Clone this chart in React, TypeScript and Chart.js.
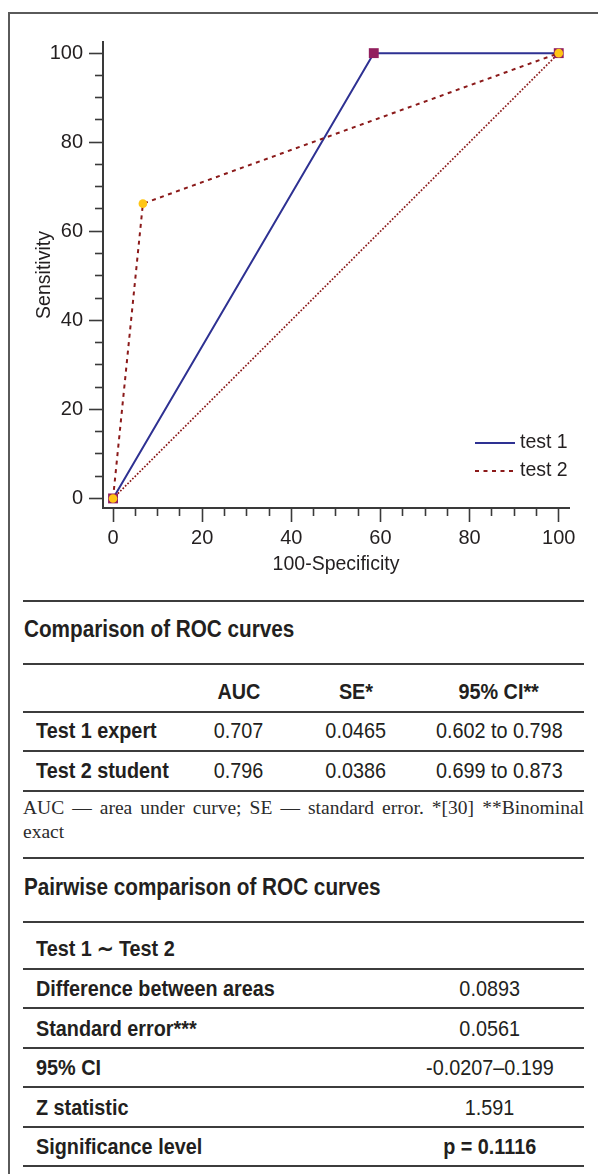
import React, { useEffect, useRef } from 'react';
import { Chart, registerables } from 'chart.js';

Chart.register(...registerables);

// ---------- chart data ----------
const seriesLabels = ['test 1', 'test 2'];
const test1Fpr = [0, 58.5, 100];
const test1Sens = [0, 100, 100];
const test2Fpr = [0, 6.7, 100];
const test2Sens = [0, 66.2, 100];
const refFpr = [0, 100];
const refSens = [0, 100];
const majorTicks = [0, 20, 40, 60, 80, 100];
const xTitle = '100-Specificity';
const yTitle = 'Sensitivity';

// ---------- table data ----------
const rocTitle = 'Comparison of ROC curves';
const rocHeader = ['', 'AUC', 'SE*', '95% CI**'];
const rocTests = ['Test 1 expert', 'Test 2 student'];
const rocAuc = ['0.707', '0.796'];
const rocSe = ['0.0465', '0.0386'];
const rocCi = ['0.602 to 0.798', '0.699 to 0.873'];
const footLine1 = 'AUC — area under curve; SE — standard error. *[30] **Binominal';
const footLine2 = 'exact';
const pairTitle = 'Pairwise comparison of ROC curves';
const pairHeader = 'Test 1 ∼ Test 2';
const pairLabels = ['Difference between areas', 'Standard error***', '95% CI', 'Z statistic', 'Significance level'];
const pairValues = ['0.0893', '0.0561', '-0.0207–0.199', '1.591', 'p = 0.1116'];
const pairBoldValue = [false, false, false, false, true];

// ---------- styles ----------
const NAVY = '#2e3192';
const RED = '#8b1a1a';
const MAGENTA = '#921f5e';
const YELLOW = '#ffc515';
const AXIS = '#3a3a3a';
const TEXT = '#231f20';
const RULE = '#3c3c3c';
const SANS = '"Liberation Sans", Arial, sans-serif';
const SERIF = '"Liberation Serif", "Times New Roman", serif';
const CONDENSE = 0.9;

const zip = (xs: number[], ys: number[]) => xs.map((x, i) => ({ x, y: ys[i] }));

const legendPlugin = {
  id: 'cornerLegend',
  afterDatasetsDraw(chart: any) {
    const { ctx, chartArea } = chart;
    const items = [
      { label: seriesLabels[0], color: NAVY, dash: [] as number[], width: 2 },
      { label: seriesLabels[1], color: RED, dash: [4, 4.5], width: 2 },
    ];
    ctx.save();
    ctx.font = `19.5px ${SANS}`;
    ctx.textBaseline = 'middle';
    ctx.fillStyle = TEXT;
    items.forEach((it, i) => {
      const y = chartArea.bottom - 65 + i * 28;
      const x0 = chartArea.right - 94;
      ctx.beginPath();
      ctx.setLineDash(it.dash);
      ctx.strokeStyle = it.color;
      ctx.lineWidth = it.width;
      ctx.moveTo(x0, y);
      ctx.lineTo(x0 + 40, y);
      ctx.stroke();
      ctx.setLineDash([]);
      ctx.fillText(it.label, x0 + 45, y);
    });
    ctx.restore();
  },
};

const isMajor = (v: number) => majorTicks.includes(Math.round(v * 1000) / 1000);

function axisOptions(
  min: number,
  max: number,
  title: string,
  fit: (s: any) => void,
  pad: number,
  minorDash: number[],
  minorOffset: number,
) {
  return {
    type: 'linear' as const,
    min,
    max,
    border: { display: true, color: AXIS, width: 2 },
    grid: {
      drawOnChartArea: false,
      drawTicks: true,
      tickLength: 14,
      tickColor: AXIS,
      tickWidth: 1.6,
      tickBorderDash: (c: any) => (c.tick && isMajor(c.tick.value) ? [] : minorDash),
      tickBorderDashOffset: minorOffset,
    },
    ticks: {
      stepSize: 5,
      includeBounds: false,
      autoSkip: false,
      maxRotation: 0,
      padding: pad,
      color: TEXT,
      font: { family: SANS, size: 20 },
      callback: (v: any) => (isMajor(Number(v)) ? String(v) : ''),
    },
    title: { display: true, text: title, color: TEXT, font: { family: SANS, size: 19.5 }, padding: 0 },
    afterFit: fit,
  };
}

function RocChart() {
  const ref = useRef<HTMLCanvasElement>(null);
  useEffect(() => {
    const chart = new Chart(ref.current as HTMLCanvasElement, {
      type: 'scatter',
      data: {
        datasets: [
          {
            label: seriesLabels[1],
            data: zip(test2Fpr, test2Sens),
            showLine: true,
            borderColor: RED,
            borderWidth: 2,
            borderDash: [4, 4.5],
            pointStyle: 'circle',
            pointRadius: 4.3,
            pointBackgroundColor: YELLOW,
            pointBorderWidth: 0,
            order: 1,
          },
          {
            label: seriesLabels[0],
            data: zip(test1Fpr, test1Sens),
            showLine: true,
            borderColor: NAVY,
            borderWidth: 2,
            pointStyle: 'rect',
            pointRadius: 7,
            pointBackgroundColor: MAGENTA,
            pointBorderWidth: 0,
            order: 2,
          },
          {
            label: 'reference',
            data: zip(refFpr, refSens),
            showLine: true,
            borderColor: RED,
            borderWidth: 1.7,
            borderDash: [1.7, 1.7],
            pointRadius: 0,
            order: 3,
          },
        ],
      } as any,
      options: {
        responsive: true,
        maintainAspectRatio: false,
        animation: false,
        events: [],
        layout: { padding: { top: 28, left: 23, right: 29, bottom: 14 } },
        plugins: { legend: { display: false }, tooltip: { enabled: false } },
        scales: {
          x: axisOptions(-2.25, 102.3, xTitle, (s: any) => { s.height = 68; }, 4.5, [7, 40], 0),
          y: axisOptions(-2.15, 102.5, yTitle, (s: any) => { s.width = 70; }, 6, [7, 6], 7),
        },
      } as any,
      plugins: [legendPlugin],
    });
    return () => chart.destroy();
  }, []);
  return <canvas ref={ref} />;
}

const rule: React.CSSProperties = { height: 2, background: RULE };
const bold: React.CSSProperties = { fontWeight: 700 };

function Narrow({ children, origin }: { children: React.ReactNode; origin: string }) {
  return (
    <span style={{ display: 'inline-block', transform: `scaleX(${CONDENSE})`, transformOrigin: origin }}>{children}</span>
  );
}

function Cell({ w, align, children, style }: { w: number; align: 'left' | 'center'; children: React.ReactNode; style?: React.CSSProperties }) {
  return (
    <div style={{ width: w, textAlign: align, paddingLeft: align === 'left' ? 13 : 0, boxSizing: 'border-box', whiteSpace: 'nowrap', ...style }}>
      <Narrow origin={align === 'left' ? 'left center' : 'center center'}>{children}</Narrow>
    </div>
  );
}

function Row({ h, top, children }: { h: number; top: number; children: React.ReactNode }) {
  return (
    <div style={{ height: h, position: 'relative' }}>
      <div style={{ position: 'absolute', left: 0, right: 0, top, display: 'flex', lineHeight: '22px', fontSize: 22 }}>{children}</div>
    </div>
  );
}

const rocCols = [157, 118, 116, 170];
const pairCols = [373, 188];

function Heading({ h, top, text }: { h: number; top: number; text: string }) {
  return (
    <div style={{ height: h, position: 'relative' }}>
      <div style={{ position: 'absolute', left: 1, top, fontSize: 23, lineHeight: '23px', whiteSpace: 'nowrap', ...bold }}>
        <Narrow origin="left center">{text}</Narrow>
      </div>
    </div>
  );
}

function Tables() {
  return (
    <div style={{ position: 'absolute', left: 23, top: 600, width: 561, fontFamily: SANS, color: TEXT }}>
      <div style={rule} />
      <Heading h={61} top={16.2} text={rocTitle} />
      <div style={rule} />
      <Row h={45.7} top={16.4}>
        {rocHeader.map((h, i) => (
          <Cell key={i} w={rocCols[i]} align={i === 0 ? 'left' : 'center'} style={bold}>{h}</Cell>
        ))}
      </Row>
      <div style={rule} />
      {rocTests.map((t, r) => (
        <React.Fragment key={t}>
          <Row h={r === 0 ? 37 : 38} top={r === 0 ? 7.7 : 8.7}>
            <Cell w={rocCols[0]} align="left" style={bold}>{t}</Cell>
            <Cell w={rocCols[1]} align="center">{rocAuc[r]}</Cell>
            <Cell w={rocCols[2]} align="center">{rocSe[r]}</Cell>
            <Cell w={rocCols[3]} align="center">{rocCi[r]}</Cell>
          </Row>
          <div style={rule} />
        </React.Fragment>
      ))}
      <div style={{ height: 65, boxSizing: 'border-box', paddingTop: 4.5, fontFamily: SERIF, fontSize: 19.5, lineHeight: '23.5px', color: '#2b2b2b' }}>
        <div style={{ textAlign: 'justify', textAlignLast: 'justify' as any }}>{footLine1}</div>
        <div>{footLine2}</div>
      </div>
      <div style={rule} />
      <Heading h={62.6} top={17.8} text={pairTitle} />
      <div style={rule} />
      <Row h={44.7} top={15.1}>
        <Cell w={pairCols[0]} align="left" style={bold}>{pairHeader}</Cell>
      </Row>
      <div style={rule} />
      {pairLabels.map((l, r) => (
        <React.Fragment key={l}>
          <Row h={37.5} top={8.3}>
            <Cell w={pairCols[0]} align="left" style={bold}>{l}</Cell>
            <Cell w={pairCols[1]} align="center" style={pairBoldValue[r] ? bold : undefined}>{pairValues[r]}</Cell>
          </Row>
          <div style={rule} />
        </React.Fragment>
      ))}
    </div>
  );
}

export default function App() {
  return (
    <div style={{ position: 'fixed', left: 0, top: 0, width: '100vw', height: '100vh', overflow: 'hidden', background: '#fff' }}>
      <div style={{ position: 'absolute', left: 8, top: 12, width: 700, height: 1300, borderLeft: '2px solid #5a5a5a', borderTop: '2px solid #5a5a5a' }} />
      <div style={{ position: 'absolute', left: 10, top: 14, width: 588, height: 576 }}>
        <RocChart />
      </div>
      <Tables />
    </div>
  );
}
